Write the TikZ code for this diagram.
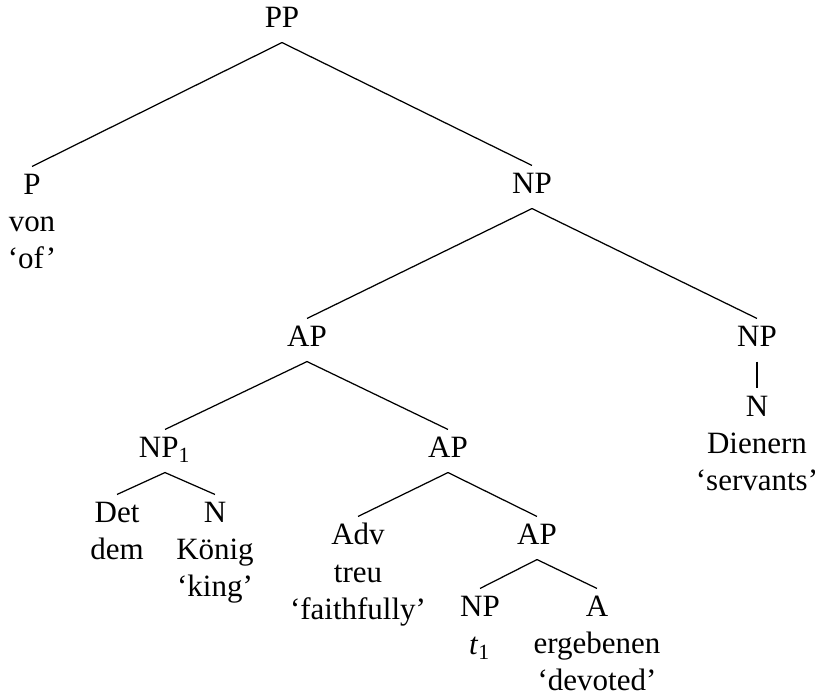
\documentclass[tikz,border=0pt]{standalone}
\usepackage{fontspec}
\setmainfont{Liberation Serif}
\begin{document}
\begin{tikzpicture}[x=0.3226pt,y=-0.3226pt,
  cat/.style={anchor=base, inner xsep=0pt, inner ysep=2.4pt, text height=6.6pt, text depth=2.1pt, font=\fontsize{10}{12}\selectfont},
  word/.style={anchor=base, inner sep=0pt, font=\fontsize{10}{12}\selectfont},
  edge/.style={line width=0.4pt}]
\useasboundingbox (0,0) rectangle (815,698);
% categories
\node[cat] (pp)   at (282,28)  {PP};
\node[cat] (p)    at (32,195)  {P};
\node[cat] (np)   at (532,194) {NP};
\node[cat] (ap)   at (307,347) {AP};
\node[cat] (npr)  at (757,347) {NP};
\node[cat] (nr)   at (757,417) {N};
\node[cat] (npa)  at (165,458) {NP\textsubscript{1}};
\node[cat] (apb)  at (448,458) {AP};
\node[cat] (det)  at (117,523) {Det};
\node[cat] (nk)   at (215,523) {N};
\node[cat] (adv)  at (358,545) {Adv};
\node[cat] (apc)  at (537,545) {AP};
\node[cat] (npt)  at (480,617) {NP};
\node[cat] (a)    at (597,617) {A};
% words
\node[word] (von)  at (32,232)  {von};
\node[word] (of)   at (32,269)  {‘of’};
\node[word] (dien) at (757,454) {Dienern};
\node[word] (serv) at (757,491) {‘servants’};
\node[word] (dem)  at (117,560) {dem};
\node[word] (kon)  at (215,560) {König};
\node[word] (king) at (215,597) {‘king’};
\node[word] (treu) at (358,583) {treu};
\node[word] (faith) at (358,620) {‘faithfully’};
\node[word] (tr)   at (480,655) {\textit{t}\textsubscript{1}};
\node[word] (erg)  at (597,654) {ergebenen};
\node[word] (dev)  at (597,691) {‘devoted’};
% edges
\draw[edge] (pp.south) -- (p.north);
\draw[edge] (pp.south) -- (np.north);
\draw[edge] (np.south) -- (ap.north);
\draw[edge] (np.south) -- (npr.north);
\draw[edge] (npr.south) -- (nr.north);
\draw[edge] (ap.south) -- (npa.north);
\draw[edge] (ap.south) -- (apb.north);
\draw[edge] (npa.south) -- (det.north);
\draw[edge] (npa.south) -- (nk.north);
\draw[edge] (apb.south) -- (adv.north);
\draw[edge] (apb.south) -- (apc.north);
\draw[edge] (apc.south) -- (npt.north);
\draw[edge] (apc.south) -- (a.north);
\end{tikzpicture}
\end{document}
